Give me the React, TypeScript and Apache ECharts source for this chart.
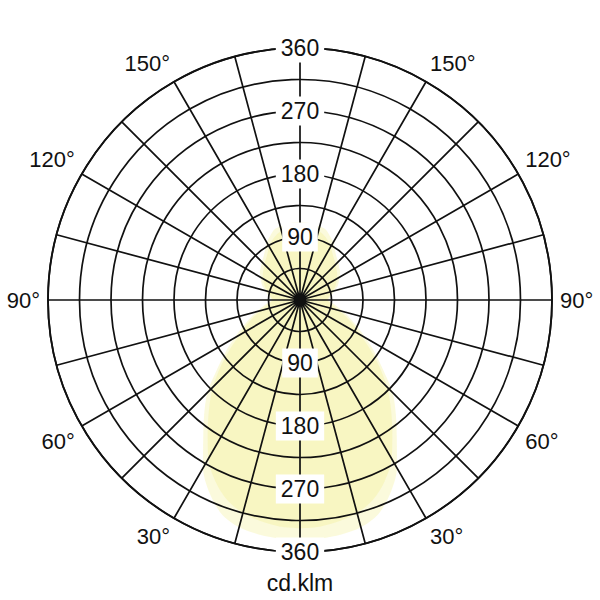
import { useRef, useEffect } from 'react'
import * as echarts from 'echarts'

// angles (deg, 0 = downward) for one half plane, values in cd/klm
const angles = [
  0, 5, 10, 15, 20, 25, 30, 35, 40, 45, 50, 55, 60, 65, 70, 75, 80, 85, 90,
  95, 100, 105, 110, 115, 120, 125, 130, 135, 140, 145, 150, 155, 160, 165, 170, 175, 180
]
const planeC0 = [
  343, 342, 340, 336, 326, 305, 277, 241, 213, 187, 155, 130, 108, 90, 76, 64, 54, 46, 41,
  43, 47, 51, 57, 61, 65, 70, 73, 77, 81, 87, 95, 101, 107, 109, 110, 111, 111
]
const planeC90 = [
  326, 325, 321, 315, 304, 286, 262, 230, 202, 176, 148, 122, 100, 84, 70, 58, 49, 43, 39,
  41, 44, 48, 53, 57, 61, 65, 68, 72, 76, 81, 88, 94, 99, 102, 103, 104, 104
]
const radiusTicks = [0, 90, 180, 270, 360]
const unitLabel = 'cd.klm'

const FONT = 'Liberation Sans, Arial, sans-serif'
const LINE = '#111'

function fullCurve(vals: number[]) {
  const a = angles.map((ang, i) => [vals[i], ang])
  const b = angles
    .slice(0, -1)
    .reverse()
    .map((ang) => [vals[angles.indexOf(ang)], 360 - ang])
  return [...a, ...b]
}

export default function App() {
  const chartRef = useRef<HTMLDivElement>(null)

  useEffect(() => {
    if (!chartRef.current) return
    const chart = echarts.init(chartRef.current, null, { renderer: 'svg' })

    const radiusMax = radiusTicks[radiusTicks.length - 1]
    const radiusStep = radiusTicks[1] - radiusTicks[0]

    chart.setOption({
      animation: false,
      backgroundColor: '#fff',
      title: {
        text: unitLabel,
        left: 'center',
        top: 566,
        textStyle: { fontFamily: FONT, fontSize: 23, fontWeight: 'normal', color: '#111' }
      },
      polar: [
        { center: ['50%', '50%'], radius: 252 },
        { center: ['50%', '50%'], radius: 252 }
      ],
      angleAxis: [
        {
          polarIndex: 0,
          type: 'value',
          min: 0,
          max: 360,
          interval: 15,
          startAngle: 270,
          clockwise: true,
          z: 5,
          axisLine: { show: true, lineStyle: { color: LINE, width: 1.8 } },
          axisTick: { show: false },
          axisLabel: {
            margin: 8,
            fontFamily: FONT,
            fontSize: 22,
            color: '#111',
            formatter: (v: number) => {
              if (v % 30 !== 0 || v === 0 || v === 180 || v === 360) return ''
              return (v > 180 ? 360 - v : v) + '°'
            }
          },
          splitLine: { show: true, lineStyle: { color: LINE, width: 1.7 } }
        },
        {
          polarIndex: 1,
          type: 'value',
          min: 0,
          max: 360,
          startAngle: 90,
          z: 6,
          axisLine: { show: false },
          axisTick: { show: false },
          axisLabel: { show: false },
          splitLine: { show: false }
        }
      ],
      radiusAxis: [0, 1].map((idx) => ({
        polarIndex: idx,
        type: 'value',
        min: 0,
        max: radiusMax,
        interval: radiusStep,
        z: 10,
        axisLine: { show: false },
        axisTick: { show: false },
        minorTick: { show: false, splitNumber: 2 },
        splitLine: { show: idx === 0, lineStyle: { color: LINE, width: 1.7 } },
        minorSplitLine: { show: idx === 0, lineStyle: { color: LINE, width: 1.7 } },
        axisLabel: {
          showMinLabel: false,
          margin: 0,
          align: 'center',
          verticalAlign: 'middle',
          fontFamily: FONT,
          fontSize: 23,
          color: '#111',
          backgroundColor: '#fff',
          padding: [3, 5]
        }
      })),
      series: [planeC0, planeC90].map((vals, i) => ({
        type: 'line',
        name: i === 0 ? 'C0-C180' : 'C90-C270',
        coordinateSystem: 'polar',
        polarIndex: 0,
        z: 1,
        smooth: 0.3,
        symbol: 'none',
        lineStyle: { width: 0 },
        areaStyle: { color: 'rgb(242,236,130)', opacity: 0.28 },
        data: fullCurve(vals)
      }))
    })

    return () => chart.dispose()
  }, [])

  return (
    <div
      ref={chartRef}
      style={{ position: 'absolute', left: 0, top: 0, width: 600, height: 600 }}
    />
  )
}
